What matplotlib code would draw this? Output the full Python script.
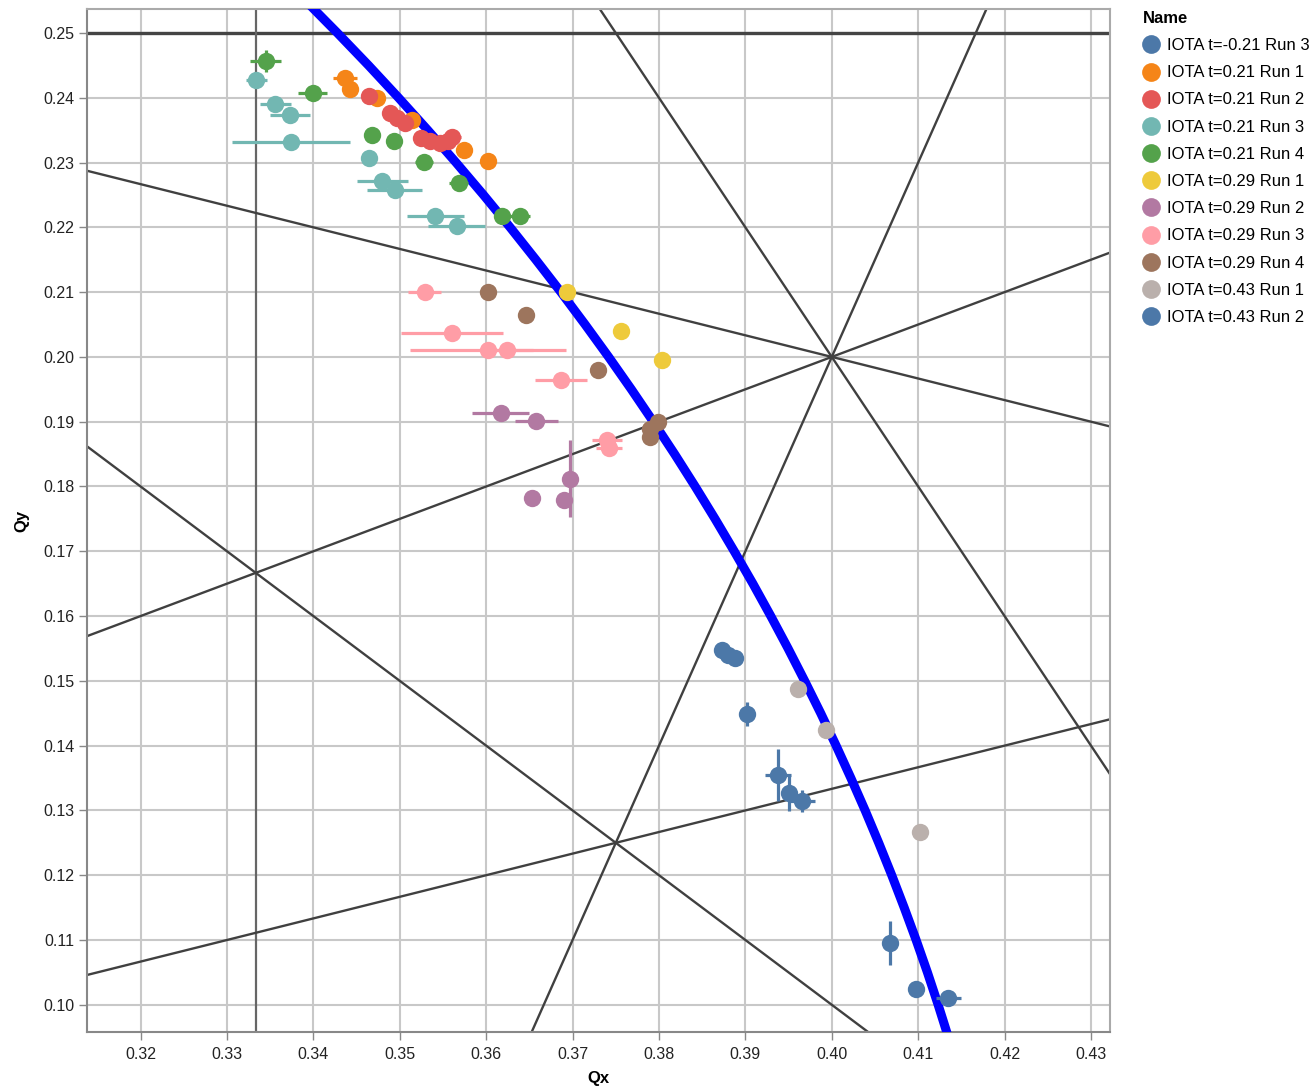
import matplotlib
matplotlib.use("Agg")
import matplotlib.pyplot as plt
from matplotlib.lines import Line2D

plt.rcParams['font.family'] = ['Liberation Sans', 'DejaVu Sans']

# ---------------- data ----------------
names = [
    "IOTA t=-0.21 Run 3", "IOTA t=0.21 Run 1", "IOTA t=0.21 Run 2", "IOTA t=0.21 Run 3",
    "IOTA t=0.21 Run 4", "IOTA t=0.29 Run 1", "IOTA t=0.29 Run 2", "IOTA t=0.29 Run 3",
    "IOTA t=0.29 Run 4", "IOTA t=0.43 Run 1", "IOTA t=0.43 Run 2",
]
colors = ["#4c78a8", "#f58518", "#e45756", "#72b7b2", "#54a24b", "#eeca3b",
          "#b279a2", "#ff9da6", "#9d755d", "#bab0ac", "#4c78a8"]

# Qx, Qy, Qx error, Qy error per series
qx_m021_r3 = [0.3873, 0.3880, 0.3888, 0.3902, 0.3938, 0.3951, 0.3965]
qy_m021_r3 = [0.1548, 0.1540, 0.1536, 0.1449, 0.1355, 0.1327, 0.1314]
ex_m021_r3 = [0.0005, 0.0005, 0.0005, 0.0003, 0.0015, 0.0008, 0.0016]
ey_m021_r3 = [0.0005, 0.0005, 0.0004, 0.0019, 0.0040, 0.0028, 0.0017]

qx_021_r1 = [0.3437, 0.3442, 0.3474, 0.3514, 0.3574, 0.3602]
qy_021_r1 = [0.2431, 0.2413, 0.2400, 0.2366, 0.2319, 0.2302]
ex_021_r1 = [0.0014, 0.0004, 0.0005, 0.0004, 0.0003, 0.0003]
ey_021_r1 = [0.0005, 0.0004, 0.0003, 0.0003, 0.0003, 0.0003]

qx_021_r2 = [0.3464, 0.3489, 0.3497, 0.3506, 0.3524, 0.3535, 0.3547, 0.3556, 0.3561]
qy_021_r2 = [0.2402, 0.2377, 0.2369, 0.2361, 0.2338, 0.2333, 0.2330, 0.2333, 0.2340]
ex_021_r2 = [0.0008, 0.0004, 0.0004, 0.0004, 0.0006, 0.0004, 0.0004, 0.0005, 0.0010]
ey_021_r2 = [0.0004, 0.0004, 0.0004, 0.0004, 0.0004, 0.0004, 0.0004, 0.0004, 0.0012]

qx_021_r3 = [0.3334, 0.3356, 0.3373, 0.3374, 0.3464, 0.3480, 0.3494, 0.3541, 0.3566]
qy_021_r3 = [0.2427, 0.2391, 0.2374, 0.2332, 0.2307, 0.2271, 0.2258, 0.2218, 0.2202]
ex_021_r3 = [0.0012, 0.0018, 0.0023, 0.0068, 0.0008, 0.0029, 0.0032, 0.0033, 0.0033]
ey_021_r3 = [0.0010, 0.0004, 0.0004, 0.0004, 0.0004, 0.0004, 0.0004, 0.0004, 0.0004]

qx_021_r4 = [0.3345, 0.3399, 0.3468, 0.3493, 0.3528, 0.3568, 0.3618, 0.3639]
qy_021_r4 = [0.2456, 0.2408, 0.2343, 0.2333, 0.2301, 0.2269, 0.2218, 0.2218]
ex_021_r4 = [0.0018, 0.0017, 0.0008, 0.0004, 0.0010, 0.0011, 0.0005, 0.0012]
ey_021_r4 = [0.0017, 0.0005, 0.0012, 0.0006, 0.0004, 0.0005, 0.0004, 0.0004]

qx_029_r1 = [0.3694, 0.3756, 0.3804]
qy_029_r1 = [0.2100, 0.2040, 0.1996]
ex_029_r1 = [0.0004, 0.0008, 0.0003]
ey_029_r1 = [0.0004, 0.0012, 0.0003]

qx_029_r2 = [0.3617, 0.3658, 0.3697, 0.3690, 0.3653]
qy_029_r2 = [0.1913, 0.1901, 0.1812, 0.1779, 0.1782]
ex_029_r2 = [0.0033, 0.0025, 0.0003, 0.0008, 0.0003]
ey_029_r2 = [0.0003, 0.0003, 0.0059, 0.0005, 0.0003]

qx_029_r3 = [0.3529, 0.3560, 0.3602, 0.3624, 0.3687, 0.3740, 0.3742]
qy_029_r3 = [0.2100, 0.2037, 0.2010, 0.2010, 0.1965, 0.1872, 0.1859]
ex_029_r3 = [0.0019, 0.0059, 0.0090, 0.0030, 0.0030, 0.0017, 0.0015]
ey_029_r3 = [0.0003, 0.0003, 0.0003, 0.0003, 0.0003, 0.0006, 0.0005]

qx_029_r4 = [0.3602, 0.3646, 0.3729, 0.3799, 0.3790, 0.3790]
qy_029_r4 = [0.2100, 0.2064, 0.1980, 0.1900, 0.1888, 0.1877]
ex_029_r4 = [0.0003, 0.0003, 0.0005, 0.0004, 0.0004, 0.0004]
ey_029_r4 = [0.0003, 0.0003, 0.0003, 0.0004, 0.0004, 0.0004]

qx_043_r1 = [0.3961, 0.3993, 0.4102]
qy_043_r1 = [0.1487, 0.1424, 0.1267]
ex_043_r1 = [0.0008, 0.0003, 0.0003]
ey_043_r1 = [0.0003, 0.0003, 0.0003]

qx_043_r2 = [0.4067, 0.4097, 0.4135]
qy_043_r2 = [0.1096, 0.1024, 0.1011]
ex_043_r2 = [0.0004, 0.0003, 0.0014]
ey_043_r2 = [0.0034, 0.0003, 0.0003]

series_qx = [qx_m021_r3, qx_021_r1, qx_021_r2, qx_021_r3, qx_021_r4, qx_029_r1,
             qx_029_r2, qx_029_r3, qx_029_r4, qx_043_r1, qx_043_r2]
series_qy = [qy_m021_r3, qy_021_r1, qy_021_r2, qy_021_r3, qy_021_r4, qy_029_r1,
             qy_029_r2, qy_029_r3, qy_029_r4, qy_043_r1, qy_043_r2]
series_ex = [ex_m021_r3, ex_021_r1, ex_021_r2, ex_021_r3, ex_021_r4, ex_029_r1,
             ex_029_r2, ex_029_r3, ex_029_r4, ex_043_r1, ex_043_r2]
series_ey = [ey_m021_r3, ey_021_r1, ey_021_r2, ey_021_r3, ey_021_r4, ey_029_r1,
             ey_029_r2, ey_029_r3, ey_029_r4, ey_043_r1, ey_043_r2]

# theoretical tune curve
curve_qx = [0.33526, 0.33908, 0.34278, 0.34638, 0.34986, 0.35324, 0.35651, 0.35969,
            0.36277, 0.36575, 0.36865, 0.37145, 0.37417, 0.37680, 0.37934, 0.38181,
            0.38419, 0.38649, 0.38871, 0.39087, 0.39294, 0.39494, 0.39686, 0.39872,
            0.40050, 0.40221, 0.40386, 0.40543, 0.40694, 0.40838, 0.40976, 0.41107,
            0.41231, 0.41349, 0.41461]
curve_qy = [0.260, 0.255, 0.250, 0.245, 0.240, 0.235, 0.230, 0.225,
            0.220, 0.215, 0.210, 0.205, 0.200, 0.195, 0.190, 0.185,
            0.180, 0.175, 0.170, 0.165, 0.160, 0.155, 0.150, 0.145,
            0.140, 0.135, 0.130, 0.125, 0.120, 0.115, 0.110, 0.105,
            0.100, 0.095, 0.090]

# resonance lines: a*Qx + b*Qy = c
res_a = [0, 1, 1, 1, 2, 3, 1, 1]
res_b = [1, 0, 3, -2, 1, -1, 1, -3]
res_c = [0.25, 1 / 3, 1, 0, 1, 1, 0.5, 0]

x_ticks = [0.32, 0.33, 0.34, 0.35, 0.36, 0.37, 0.38, 0.39, 0.40, 0.41, 0.42, 0.43]
y_ticks = [0.10, 0.11, 0.12, 0.13, 0.14, 0.15, 0.16, 0.17, 0.18, 0.19, 0.20, 0.21,
           0.22, 0.23, 0.24, 0.25]

# ---------------- figure ----------------
W, H = 1316, 1089
fig = plt.figure(figsize=(W / 100, H / 100), dpi=100)
ax = fig.add_axes([87 / W, 1 - 1032 / H, (1110 - 87) / W, (1032 - 9) / H])
ax.set_xlim(0.3138, 0.4322)
ax.set_ylim(0.0958, 0.2537)

ax.set_xticks(x_ticks)
ax.set_yticks(y_ticks)
ax.set_xticklabels([f"{v:.2f}" for v in x_ticks])
ax.set_yticklabels([f"{v:.2f}" for v in y_ticks])
ax.grid(True, color="#c8c8c8", linewidth=1.5, zorder=0)
ax.set_axisbelow(True)
ax.tick_params(length=6, width=1, color="#888888", labelsize=11.5, labelcolor="#222222", pad=3)
ax.tick_params(axis="x", pad=5)
for s in ax.spines.values():
    s.set_color("#aaaaaa")
    s.set_linewidth(1.5)
for s in ("left", "bottom"):
    ax.spines[s].set_color("#888888")
ax.set_xlabel("Qx", fontsize=12, fontweight="bold", labelpad=6)
ax.set_ylabel("Qy", fontsize=12, fontweight="bold", labelpad=10)

# resonance lines
for a, b, c in zip(res_a, res_b, res_c):
    if b == 0:
        ax.axvline(c / a, color="#666666", lw=1.6, zorder=2)
    elif a == 0:
        ax.axhline(c / b, color="#444444", lw=2.4, zorder=2)
    else:
        ax.axline((0.4, (c - a * 0.4) / b), slope=-a / b, color="#404040", lw=1.7, zorder=2)

# tune curve
ax.plot(curve_qx, curve_qy, color="#0000ff", lw=6.5, zorder=3,
        solid_capstyle="butt", solid_joinstyle="round")

# data
handles = []
for name, col, qx, qy, ex, ey in zip(names, colors, series_qx, series_qy, series_ex, series_ey):
    ax.errorbar(qx, qy, xerr=ex, yerr=ey, fmt="none", ecolor=col, elinewidth=2.3,
                capsize=0, zorder=4)
    ax.plot(qx, qy, "o", color=col, markersize=12.5, markeredgewidth=0, zorder=5)
    handles.append(Line2D([], [], marker="o", linestyle="none", color=col,
                          markersize=13.5, markeredgewidth=0, label=name))

leg = ax.legend(handles=handles, loc="upper left",
                bbox_to_anchor=(1143 / W, 1 - 11 / H), bbox_transform=fig.transFigure,
                frameon=False, title="Name", fontsize=12,
                title_fontproperties={"weight": "bold", "size": 12},
                handlelength=1.0, handletextpad=0.45, labelspacing=0.73,
                borderaxespad=0, borderpad=0)
leg._legend_box.align = "left"

fig.savefig("out.png", dpi=100)
